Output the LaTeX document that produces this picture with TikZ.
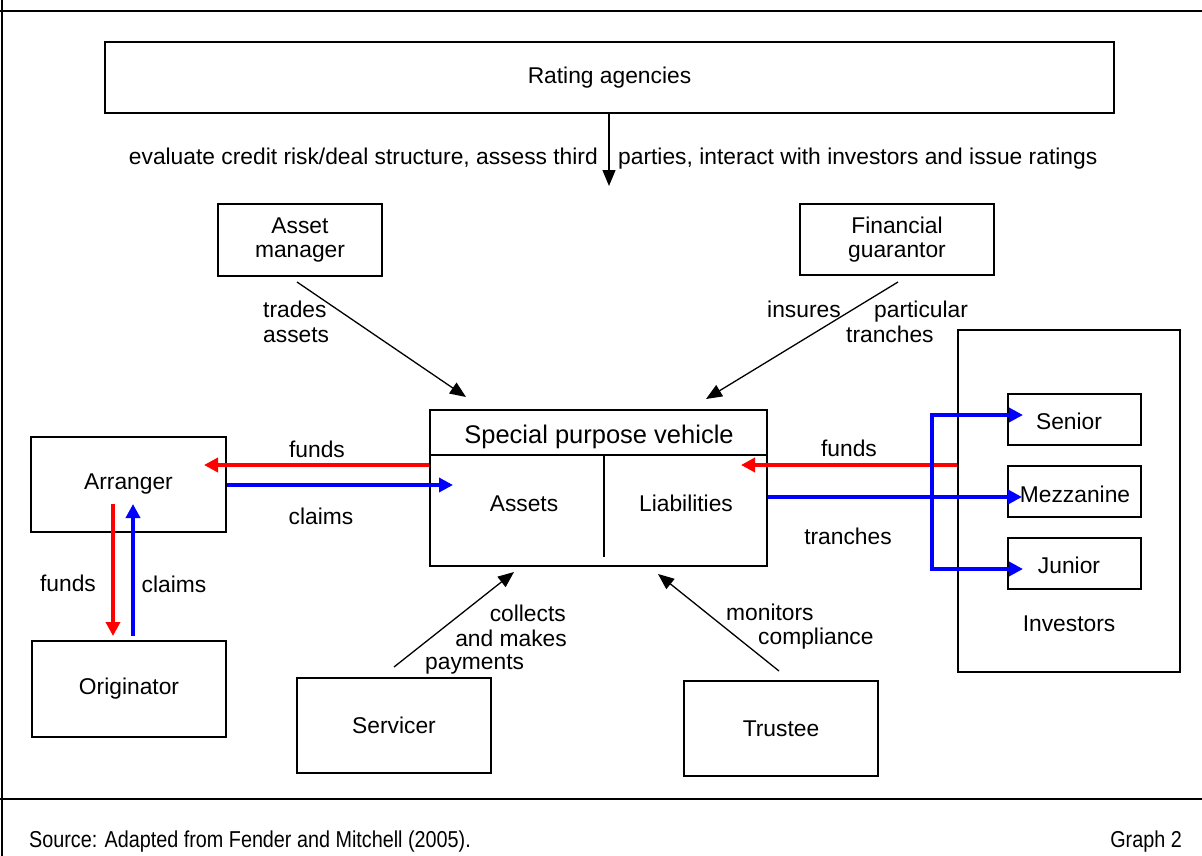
\documentclass[tikz,border=0pt]{standalone}
\usepackage{fontspec}
\usepackage{graphicx}
\setmainfont{Liberation Sans}
\usetikzlibrary{arrows.meta,calc}
\begin{document}
\begin{tikzpicture}[x=1pt,y=-1pt,
  font=\fontsize{22.8}{24.5}\selectfont,
  box/.style={draw,line width=1.5pt,inner sep=0pt,align=center},
  blk/.style={line width=1.3pt,-{Triangle[length=16pt,width=13pt]}},
  redarr/.style={draw=red,line width=4pt,-{Triangle[length=14pt,width=14pt]}},
  bluearr/.style={draw=blue,line width=4pt,-{Triangle[length=14pt,width=14pt]}},
  bluel/.style={draw=blue,line width=4pt},
  lbl/.style={inner sep=0pt,align=left,yshift=-3.5pt},
  frame/.style={line width=1.8pt}]
\useasboundingbox (0,0) rectangle (1202,856);
% frame
\coordinate (fTL) at (2,0);
\coordinate (fBL) at (2,856);
\coordinate (t1) at (0,11);
\coordinate (t2) at (1202,11);
\coordinate (b1) at (0,799);
\coordinate (b2) at (1202,799);
\draw[frame] (fTL) -- (fBL);
\draw[frame] (t1) -- (t2);
\draw[frame] (b1) -- (b2);

% nodes
\node[box,minimum width=1009pt,minimum height=71pt] (rating) at (609.5,77.5) {\raisebox{-2pt}{Rating agencies}};
\node[box,minimum width=164pt,minimum height=72pt] (am) at (300,240) {Asset\\manager};
\node[box,minimum width=194pt,minimum height=71pt] (fg) at (897,239.5) {Financial\\guarantor};
\node[box,minimum width=337pt,minimum height=156pt] (spv) at (598.5,488) {};
\node[box,minimum width=195pt,minimum height=95pt] (arr) at (128.5,484.5) {Arranger};
\node[box,minimum width=194pt,minimum height=96pt] (orig) at (129,689) {Originator};
\node[box,minimum width=222pt,minimum height=342pt] (inv) at (1069,501) {};
\node[box,minimum width=133pt,minimum height=51pt] (sen) at (1074.5,419.5) {};
\node[box,minimum width=133pt,minimum height=51pt] (mez) at (1074.5,491.5) {};
\node[box,minimum width=133pt,minimum height=51pt] (jun) at (1074.5,563.5) {};
\node[box,minimum width=194pt,minimum height=95pt] (serv) at (394,725.5) {Servicer};
\node[box,minimum width=194pt,minimum height=95pt] (trus) at (781,728.5) {Trustee};

\node[lbl] (sent) at (1069,418) {Senior};
\node[lbl] (mezt) at (1075,491) {Mezzanine};
\node[lbl] (junt) at (1069,562) {Junior};
\node[lbl] (invt) at (1069,620) {Investors};

% SPV internals
\node[lbl,font=\fontsize{25.5}{28}\selectfont] (spvt) at (599,433) {Special purpose vehicle};
\coordinate (dl) at (430,455);
\coordinate (dr) at (767,455);
\coordinate (vt) at (604,455);
\coordinate (vb) at (604,557);
\draw[line width=1.5pt] (dl) -- (dr);
\draw[line width=1.5pt] (vt) -- (vb);
\node[lbl] (assets) at (524,500) {Assets};
\node[lbl] (liab) at (686,500) {Liabilities};

% rating arrow and label
\coordinate (ratTip) at (609,186);
\draw[blk] (rating.south -| ratTip) -- (ratTip);
\node[lbl,anchor=mid east] (ev1) at (598,158) {evaluate credit risk/deal structure, assess third};
\node[lbl,anchor=mid west] (ev2) at (618,158) {parties, interact with investors and issue ratings};

% asset manager
\coordinate (amS) at (297,282);
\coordinate (amT) at (466,397);
\draw[blk] (amS) -- (amT);
\node[lbl,anchor=mid west] (trades) at (263,311) {trades};
\node[lbl,anchor=mid west] (assetsl) at (263,336) {assets};

% financial guarantor
\coordinate (fgS) at (898,282);
\coordinate (fgT) at (706,399);
\draw[blk] (fgS) -- (fgT);
\node[lbl,anchor=mid west] (insures) at (767,311) {insures};
\node[lbl,anchor=mid west] (partic) at (874,311) {particular};
\node[lbl,anchor=mid west] (tranch1) at (846,336) {tranches};

% arranger <-> SPV
\coordinate (fundsTip) at (204,465);
\draw[redarr] (spv.west |- fundsTip) -- (fundsTip);
\coordinate (claimsTip) at (453,485);
\draw[bluearr] (arr.east |- claimsTip) -- (claimsTip);
\node[lbl] (funds1) at (317,446) {funds};
\node[lbl] (claims1) at (321,513) {claims};

% investors <-> SPV
\coordinate (funds2Tip) at (741,465);
\draw[redarr] (inv.west |- funds2Tip) -- (funds2Tip);
\node[lbl] (funds2) at (849,445) {funds};
\coordinate (mezTip) at (1022,497);
\draw[bluearr] (spv.east |- mezTip) -- (mezTip);
\coordinate (vTop) at (932,415);
\coordinate (vBot) at (932,569);
\coordinate (senTip) at (1023,415);
\coordinate (junTip) at (1023,569);
\draw[bluel] (vTop) -- (vBot);
\draw[bluearr] ([xshift=-2pt]vTop) -- (senTip);
\draw[bluearr] ([xshift=-2pt]vBot) -- (junTip);
\node[lbl] (tranch2) at (848,533) {tranches};

% arranger <-> originator
\coordinate (rA) at (113,504);
\coordinate (rB) at (113,636);
\draw[redarr] (rA) -- (rB);
\coordinate (bA) at (133,636);
\coordinate (bB) at (133,504);
\draw[bluearr] (bA) -- (bB);
\node[lbl] (funds3) at (68,580) {funds};
\node[lbl] (claims3) at (174,581) {claims};

% servicer
\coordinate (svS) at (394,667);
\coordinate (svT) at (514,572);
\draw[blk] (svS) -- (svT);
\node[lbl,anchor=mid east] (coll) at (566,615) {collects};
\node[lbl,anchor=mid east] (andm) at (567,640) {and makes};
\node[lbl,anchor=mid west] (paym) at (425,663) {payments};

% trustee
\coordinate (trS) at (779,671);
\coordinate (trT) at (658,574);
\draw[blk] (trS) -- (trT);
\node[lbl,anchor=mid west] (mon) at (726,614) {monitors};
\node[lbl,anchor=mid west] (comp) at (758,638) {compliance};

% footer
\node[lbl,anchor=mid west,font=\fontsize{23}{26}\selectfont] (src) at (29,841) {\scalebox{0.86}[1]{Source: Adapted from Fender and Mitchell (2005).}};
\node[lbl,anchor=mid east,font=\fontsize{23}{26}\selectfont] (gr) at (1182,841) {\scalebox{0.86}[1]{Graph 2}};
\end{tikzpicture}
\end{document}
